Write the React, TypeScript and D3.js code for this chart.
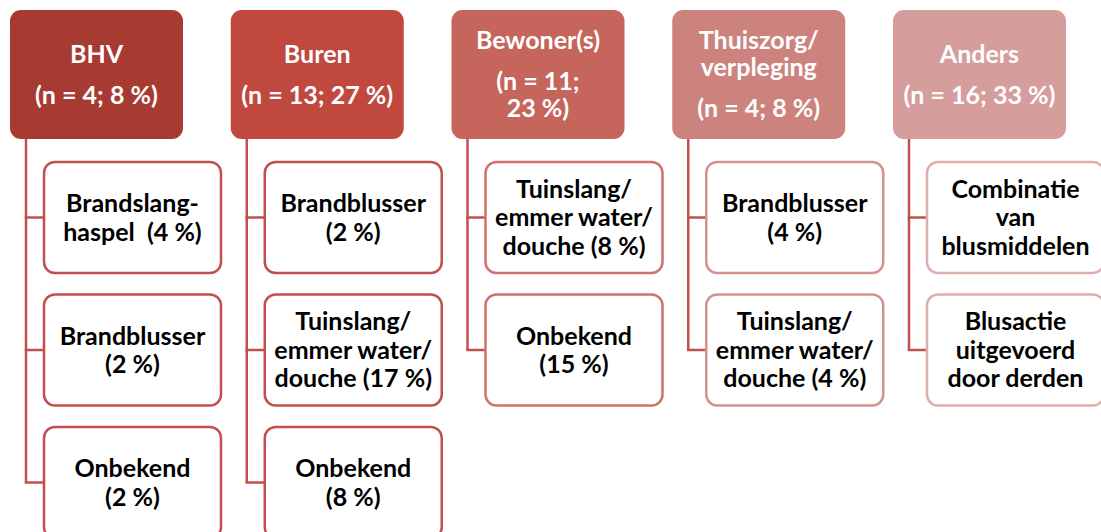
import * as React from 'react';
import * as d3 from "d3";

// top-level boxes: each is a list of paragraphs, each paragraph a list of lines
const groupLabels: string[][][] = [
    [["BHV"], ["(n = 4; 8 %)"]],
    [["Buren"], ["(n = 13; 27 %)"]],
    [["Bewoner(s)"], ["(n = 11;", "23 %)"]],
    [["Thuiszorg/", "verpleging"], ["(n = 4; 8 %)"]],
    [["Anders"], ["(n = 16; 33 %)"]],
];

const groupFills = ["#A73A31", "#C1483E", "#C6655C", "#CC837E", "#D59E9C"];
const childBorders = ["#C0504D", "#C0504D", "#D0726C", "#D39290", "#DDAEAC"];

const childLabels: string[][][] = [
    [["Brandslang-", "haspel  (4 %)"], ["Brandblusser", "(2 %)"], ["Onbekend", "(2 %)"]],
    [["Brandblusser", "(2 %)"], ["Tuinslang/", "emmer water/", "douche (17 %)"], ["Onbekend", "(8 %)"]],
    [["Tuinslang/", "emmer water/", "douche (8 %)"], ["Onbekend", "(15 %)"]],
    [["Brandblusser", "(4 %)"], ["Tuinslang/", "emmer water/", "douche (4 %)"]],
    [["Combinatie", "van", "blusmiddelen"], ["Blusactie", "uitgevoerd", "door derden"]],
];

const W = 1101, H = 532;
const headW = 173, headH = 129;
const childW = 177, childH = 111;
const lineColor = "#C0504D";
const font = "Lato, 'Open Sans', sans-serif";
const fontSize = 25;
const capHalf = 8.8;

function headerLineYs(paras: string[][], cy: number) {
    const ys: number[] = [];
    let y = 0;
    paras.forEach((p, pi) => {
        p.forEach((_, li) => {
            if (pi > 0 || li > 0) y += li === 0 ? 41 : 27;
            ys.push(y);
        });
    });
    const shift = cy - (ys[0] + ys[ys.length - 1]) / 2;
    return ys.map(v => v + shift + capHalf);
}

function childLineYs(lines: string[], cy: number) {
    const lh = 28.5;
    const top = cy - (lines.length - 1) * lh / 2;
    return lines.map((_, i) => top + i * lh + capHalf);
}

export default function App() {
    const colX = d3.scaleLinear().domain([0, groupLabels.length - 1]).range([10, 893]);
    const rowY = d3.scaleLinear().domain([0, 2]).range([162, 427]);
    const headTop = 10;

    return (
        <svg width={W} height={H} style={{ position: "absolute", left: 0, top: 0 }}>
            <rect width={W} height={H} fill="#fff" />
            {groupLabels.map((paras, gi) => {
                const x0 = colX(gi);
                const stemX = x0 + 16;
                const childX = x0 + 34;
                const kids = childLabels[gi];
                const lastMid = rowY(kids.length - 1) + childH / 2;
                const headCy = headTop + headH / 2;
                return (
                    <g key={gi}>
                        <line x1={stemX} x2={stemX} y1={headTop + headH} y2={lastMid}
                            stroke={lineColor} strokeWidth={2.5} />
                        {kids.map((_, ci) => {
                            const cy = rowY(ci) + childH / 2;
                            return <line key={ci} x1={stemX - 1.25} x2={childX} y1={cy} y2={cy}
                                stroke={lineColor} strokeWidth={2.5} />;
                        })}
                        <rect x={x0} y={headTop} width={headW} height={headH} rx={11}
                            fill={groupFills[gi]} />
                        {headerLineYs(paras, headCy).map((y, li) => (
                            <text key={li} x={x0 + headW / 2} y={y} textAnchor="middle"
                                fill="#fff" fontFamily={font} fontWeight="bold" fontSize={fontSize}>
                                {paras.flat()[li]}
                            </text>
                        ))}
                        {kids.map((lines, ci) => {
                            const y0 = rowY(ci);
                            return (
                                <g key={ci}>
                                    <rect x={childX} y={y0} width={childW} height={childH} rx={11}
                                        fill="#fff" stroke={childBorders[gi]} strokeWidth={2.5} />
                                    {childLineYs(lines, y0 + childH / 2).map((y, li) => (
                                        <text key={li} x={childX + childW / 2} y={y} textAnchor="middle"
                                            fill="#000" fontFamily={font} fontWeight="bold" fontSize={fontSize}
                                            style={{ whiteSpace: "pre" }}>
                                            {lines[li]}
                                        </text>
                                    ))}
                                </g>
                            );
                        })}
                    </g>
                );
            })}
        </svg>
    );
}
